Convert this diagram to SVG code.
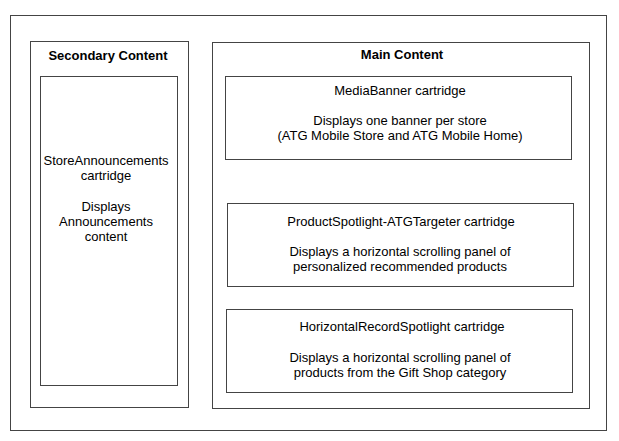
<svg xmlns="http://www.w3.org/2000/svg" width="619" height="441" viewBox="0 0 619 441">
<style>
.box{fill:#fff;stroke:#444;stroke-width:1}
.t{font-family:"Liberation Sans",Arial,sans-serif;font-size:13px;fill:#000;text-anchor:middle}
.b{font-weight:bold}
</style>
<rect width="619" height="441" fill="#fff"/>
<g id="page">
<rect class="box" x="10.5" y="15.5" width="596" height="415"/>
</g>
<g id="secondary">
<rect class="box" x="30.5" y="41.5" width="158" height="366"/>
<text class="t b" x="108" y="60">Secondary Content</text>
</g>
<g id="store-announcements">
<rect class="box" x="40.5" y="76.5" width="137" height="309"/>
<text class="t" x="106" y="165">StoreAnnouncements</text>
<text class="t" x="106" y="180">cartridge</text>
<text class="t" x="106" y="211">Displays</text>
<text class="t" x="106" y="226">Announcements</text>
<text class="t" x="106" y="241">content</text>
</g>
<g id="main">
<rect class="box" x="212.5" y="42.5" width="377" height="366"/>
<text class="t b" x="402" y="59">Main Content</text>
</g>
<g id="media-banner">
<rect class="box" x="225.5" y="76.5" width="346" height="83"/>
<text class="t" x="400" y="95">MediaBanner cartridge</text>
<text class="t" x="400" y="125">Displays one banner per store</text>
<text class="t" x="400" y="140">(ATG Mobile Store and ATG Mobile Home)</text>
</g>
<g id="product-spotlight">
<rect class="box" x="227.5" y="203.5" width="346" height="83"/>
<text class="t" x="401" y="226">ProductSpotlight-ATGTargeter cartridge</text>
<text class="t" x="400" y="256">Displays a horizontal scrolling panel of</text>
<text class="t" x="400" y="271">personalized recommended products</text>
</g>
<g id="horizontal-record-spotlight">
<rect class="box" x="226.5" y="309.5" width="346" height="83"/>
<text class="t" x="402" y="331">HorizontalRecordSpotlight cartridge</text>
<text class="t" x="400" y="362">Displays a horizontal scrolling panel of</text>
<text class="t" x="400" y="377">products from the Gift Shop category</text>
</g>
<g id="connectors"></g>
</svg>
